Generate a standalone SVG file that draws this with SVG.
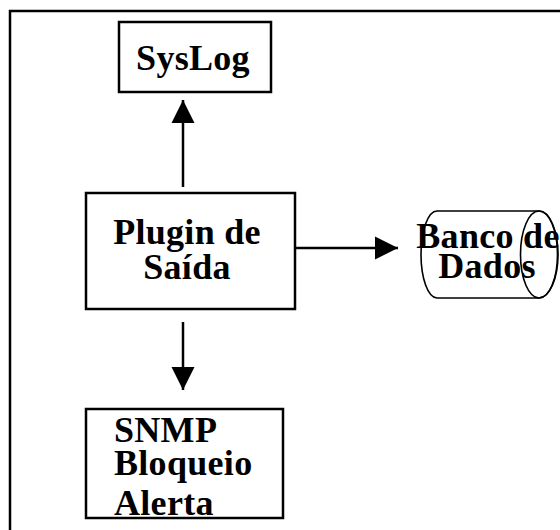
<svg xmlns="http://www.w3.org/2000/svg" width="560" height="530" viewBox="0 0 560 530">
<style>
.box{fill:#fff;stroke:#000;stroke-width:2.5}
.t{font-family:"Liberation Serif","Times New Roman",serif;font-weight:bold;font-size:36px;letter-spacing:0.3px;fill:#000}
.c{stroke:#000;stroke-width:2.5;fill:none}
.cyl{fill:none;stroke:#000;stroke-width:1.6}
</style>
<defs>
<marker id="ah" viewBox="0 0 10 10" refX="10" refY="5" markerWidth="23" markerHeight="25" markerUnits="userSpaceOnUse" orient="auto">
<path d="M0,0 L10,5 L0,10 Z" fill="#000"/>
</marker>
</defs>
<rect width="560" height="530" fill="#fff"/>
<rect x="10" y="11" width="560" height="530" fill="none" stroke="#000" stroke-width="2.5"/>
<g id="connectors">
<line class="c" x1="183" y1="187" x2="183" y2="100" marker-end="url(#ah)"/>
<line class="c" x1="295" y1="248" x2="398" y2="248" marker-end="url(#ah)"/>
<line class="c" x1="183" y1="322" x2="183" y2="390" marker-end="url(#ah)"/>
</g>
<g id="syslog">
<rect class="box" x="119" y="22" width="152" height="70"/>
<text class="t" x="193" y="70" text-anchor="middle">SysLog</text>
</g>
<g id="plugin">
<rect class="box" x="86" y="193" width="209" height="116"/>
<text class="t" text-anchor="middle"><tspan x="187" y="244">Plugin de</tspan><tspan x="187" y="279">Saída</tspan></text>
</g>
<g id="banco">
<path class="cyl" d="M437,211 L539,211 A19,43.5 0 0 1 539,298 L437,298 A16,43.5 0 0 1 437,211 Z"/>
<ellipse class="cyl" cx="539" cy="254.5" rx="18.5" ry="43.5"/>
<text class="t" text-anchor="middle"><tspan x="488" y="248">Banco de</tspan><tspan x="487" y="278">Dados</tspan></text>
</g>
<g id="snmp">
<rect class="box" x="86" y="409" width="197" height="109"/>
<text class="t"><tspan x="114" y="442">SNMP</tspan><tspan x="114" y="475">Bloqueio</tspan><tspan x="114" y="515">Alerta</tspan></text>
</g>
</svg>
